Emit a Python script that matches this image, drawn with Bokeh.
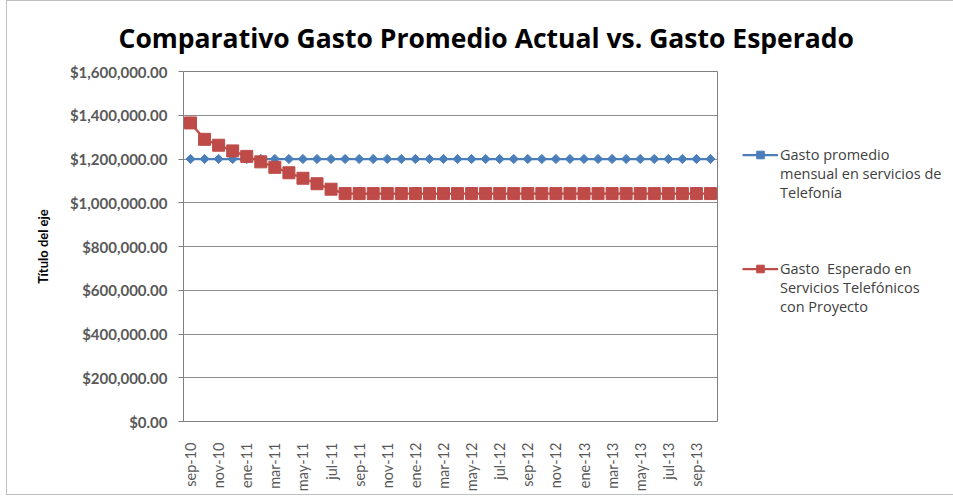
from bokeh.plotting import figure
from bokeh.models import (Range1d, NumeralTickFormatter, FixedTicker,
                          Legend, LegendItem, Title)
from bokeh.embed import file_html
from bokeh.resources import INLINE
import numpy as np

months = ["sep-10", "oct-10", "nov-10", "dic-10", "ene-11", "feb-11", "mar-11", "abr-11",
          "may-11", "jun-11", "jul-11", "ago-11", "sep-11", "oct-11", "nov-11", "dic-11",
          "ene-12", "feb-12", "mar-12", "abr-12", "may-12", "jun-12", "jul-12", "ago-12",
          "sep-12", "oct-12", "nov-12", "dic-12", "ene-13", "feb-13", "mar-13", "abr-13",
          "may-13", "jun-13", "jul-13", "ago-13", "sep-13", "oct-13"]

shown_labels = ["sep-10", "nov-10", "ene-11", "mar-11", "may-11", "jul-11", "sep-11",
                "nov-11", "ene-12", "mar-12", "may-12", "jul-12", "sep-12", "nov-12",
                "ene-13", "mar-13", "may-13", "jul-13", "sep-13"]

gasto_actual = [1200000, 1200000, 1200000, 1200000, 1200000, 1200000, 1200000, 1200000,
                1200000, 1200000, 1200000, 1200000, 1200000, 1200000, 1200000, 1200000,
                1200000, 1200000, 1200000, 1200000, 1200000, 1200000, 1200000, 1200000,
                1200000, 1200000, 1200000, 1200000, 1200000, 1200000, 1200000, 1200000,
                1200000, 1200000, 1200000, 1200000, 1200000, 1200000]

gasto_esperado = [1365000, 1290000, 1263000, 1237000, 1212000, 1187000, 1162000, 1137000,
                  1112000, 1087000, 1062000, 1042000, 1042000, 1042000, 1042000, 1042000,
                  1042000, 1042000, 1042000, 1042000, 1042000, 1042000, 1042000, 1042000,
                  1042000, 1042000, 1042000, 1042000, 1042000, 1042000, 1042000, 1042000,
                  1042000, 1042000, 1042000, 1042000, 1042000, 1042000]

y_ticks = [0, 200000, 400000, 600000, 800000, 1000000, 1200000, 1400000, 1600000]

title_text = "Comparativo Gasto Promedio Actual vs. Gasto Esperado"
y_title = "Título del eje"
legend_actual = ["Gasto promedio", "mensual en servicios de", "Telefonía"]
legend_esperado = ["Gasto  Esperado en", "Servicios Telefónicos", "con Proyecto"]

BLUE = "#4A7EBB"
RED = "#BE4B48"
GRID = "#8C8C8C"
TXT = "#595959"

# month positions on the category axis (one slot per month)
xpos = list(range(len(months)))
tick_pos = [i for i, m in enumerate(months) if m in shown_labels]

p = figure(frame_width=534, frame_height=350, x_range=Range1d(-0.5, len(months) - 0.5),
           y_range=Range1d(0, 1600000), output_backend="svg", toolbar_location=None,
           min_border_left=176, min_border_right=234, min_border_top=67,
           min_border_bottom=73)
p.styles = {"border-top": "1px solid #BFBFBF", "border-left": "1px solid #BFBFBF",
            "border-bottom": "1px solid #BFBFBF", "margin-left": "6px"}

p.title = Title(text=title_text, align="left", offset=-65, text_font="Open Sans",
                text_font_size="26.5px", text_font_style="bold", text_color="#000000",
                standoff=32)

p.outline_line_color = "#808080"
p.outline_line_width = 1

# y axis
p.yaxis.ticker = FixedTicker(ticks=y_ticks)
p.yaxis.formatter = NumeralTickFormatter(format="$0,0.00")
p.yaxis.major_label_text_font = "Lato"
p.yaxis.major_label_text_font_size = "15px"
p.yaxis.major_label_text_font_style = "bold"
p.yaxis.major_label_text_color = TXT
p.yaxis.axis_line_color = "#808080"
p.yaxis.major_tick_line_color = "#808080"
p.yaxis.major_tick_out = 5
p.yaxis.major_tick_in = 0
p.yaxis.minor_tick_line_color = None
p.yaxis.major_label_standoff = 11
p.yaxis.axis_label = y_title
p.yaxis.axis_label_text_font = "Lato"
p.yaxis.axis_label_text_font_size = "13px"
p.yaxis.axis_label_text_font_style = "bold"
p.yaxis.axis_label_text_color = "#000000"
p.yaxis.axis_label_standoff = 16

# x axis
p.xaxis.ticker = FixedTicker(ticks=tick_pos)
p.xaxis.major_label_overrides = {i: months[i] for i in tick_pos}
p.xaxis.major_label_orientation = np.pi / 2
p.xaxis.major_label_text_font = "Lato"
p.xaxis.major_label_text_font_size = "14.5px"
p.xaxis.major_label_text_color = TXT
p.xaxis.axis_line_color = "#808080"
p.xaxis.major_tick_line_color = None
p.xaxis.minor_tick_line_color = None
p.xaxis.major_label_standoff = 15

p.xgrid.grid_line_color = None
p.ygrid.grid_line_color = GRID
p.ygrid.grid_line_width = 1

l1 = p.line(xpos, gasto_actual, line_color=BLUE, line_width=2.25)
s1 = p.scatter(xpos, gasto_actual, marker="square", angle=np.pi / 4, size=6.5,
               fill_color=BLUE, line_color=BLUE)
l2 = p.line(xpos, gasto_esperado, line_color=RED, line_width=2.25)
s2 = p.scatter(xpos, gasto_esperado, marker="square", size=12,
               fill_color=RED, line_color=RED)

items = [LegendItem(label=legend_actual[0], renderers=[l1, s1]),
         LegendItem(label=legend_actual[1], renderers=[]),
         LegendItem(label=legend_actual[2], renderers=[]),
         LegendItem(label=" ", renderers=[]),
         LegendItem(label=" ", renderers=[]),
         LegendItem(label=" ", renderers=[]),
         LegendItem(label=legend_esperado[0], renderers=[l2, s2]),
         LegendItem(label=legend_esperado[1], renderers=[]),
         LegendItem(label=legend_esperado[2], renderers=[])]

legend = Legend(items=items, location=(25, 105), padding=0, spacing=0, glyph_width=36,
                glyph_height=19, label_height=19, label_standoff=2,
                border_line_color=None, background_fill_alpha=0,
                label_text_font="Open Sans", label_text_font_size="14.5px",
                label_text_color="#404040", margin=0)
p.add_layout(legend, "right")

open("out.html", "w").write(file_html(p, INLINE))
